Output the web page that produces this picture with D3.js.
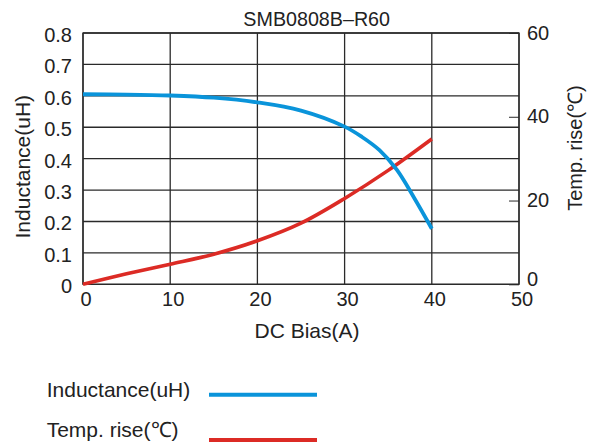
<!DOCTYPE html>
<html><head><meta charset="utf-8">
<script src="https://cdn.jsdelivr.net/npm/d3@7"></script>
<style>
body{margin:0;background:#fff;}
text{font-family:"Liberation Sans",Arial,sans-serif;fill:#222;}
</style></head>
<body>
<svg id="c" width="595" height="447"></svg>
<script>
const title = "SMB0808B\u2013R60";
const biasL = [0, 5, 10, 15, 20, 25, 30, 32, 34, 36, 38, 40];
const inductance = [0.605, 0.604, 0.601, 0.594, 0.579, 0.553, 0.502, 0.469, 0.427, 0.364, 0.274, 0.177];
const biasT = [0, 5, 10, 15, 20, 25, 30, 35, 40];
const tempRise = [0, 2.5, 4.8, 7.2, 10.4, 14.6, 20.5, 27.2, 34.7];
const xTicks = [0, 10, 20, 30, 40, 50];
const yLTicks = [0, 0.1, 0.2, 0.3, 0.4, 0.5, 0.6, 0.7, 0.8];
const yRTicks = [0, 20, 40, 60];
const seriesNames = ["Inductance(uH)", "Temp. rise(\u2103)"];
const colors = ["#0a94da", "#dc2b25"];

const svg = d3.select("#c");
const L = 83, R = 519, T = 33, B = 284.3;
const x = d3.scaleLinear().domain([0, 50]).range([L, R]);
const yL = d3.scaleLinear().domain([0, 0.8]).range([B, T]);
const yR = d3.scaleLinear().domain([0, 60]).range([B, T]);
const FF = "Liberation Sans, Arial, sans-serif";

// grid
const g = svg.append("g").attr("stroke", "#2a2a2a").attr("stroke-width", 1.3);
g.selectAll("line.h").data(yLTicks).join("line")
  .attr("x1", L).attr("x2", R).attr("y1", d => yL(d)).attr("y2", d => yL(d));
g.selectAll("line.v").data(xTicks).join("line")
  .attr("y1", T).attr("y2", B).attr("x1", d => x(d)).attr("x2", d => x(d));
svg.append("rect").attr("x", L).attr("y", T).attr("width", R - L).attr("height", B - T)
  .attr("fill", "none").attr("stroke", "#2a2a2a").attr("stroke-width", 1.3);

// axes
const ax = svg.append("g").attr("transform", `translate(0,${B})`)
  .call(d3.axisBottom(x).tickValues(xTicks).tickSize(0).tickPadding(8).tickFormat(d3.format("d")));
ax.select(".domain").remove();
ax.selectAll("text").attr("font-size", 20).attr("dx", 2.5).style("font-family", FF).attr("fill", "#222");

const ay = svg.append("g").attr("transform", `translate(${L},0)`)
  .call(d3.axisLeft(yL).tickValues(yLTicks).tickSize(0).tickPadding(11).tickFormat(d => d === 0 ? "0" : d3.format(".1f")(d)));
ay.select(".domain").remove();
ay.selectAll("text").attr("font-size", 20).attr("dy", "0.42em").style("font-family", FF).attr("fill", "#222");

const ar = svg.append("g").attr("transform", `translate(${R},0)`)
  .call(d3.axisRight(yR).tickValues(yRTicks).tickSize(-10).tickPadding(8).tickFormat(d3.format("d")));
ar.select(".domain").remove();
ar.selectAll("line").attr("stroke", "#2a2a2a").attr("stroke-width", 1);
ar.selectAll("text").attr("font-size", 20).attr("dy", d => d === 0 ? "0.05em" : "0.3em").style("font-family", FF).attr("fill", "#222");

// series
const lineL = d3.line().x((d, i) => x(biasL[i])).y(d => yL(d)).curve(d3.curveCatmullRom.alpha(0.5));
const lineT = d3.line().x((d, i) => x(biasT[i])).y(d => yR(d)).curve(d3.curveCatmullRom.alpha(0.5));
svg.append("path").attr("d", lineT(tempRise)).attr("fill", "none").attr("stroke", colors[1]).attr("stroke-width", 3.6);
svg.append("path").attr("d", lineL(inductance)).attr("fill", "none").attr("stroke", colors[0]).attr("stroke-width", 3.8);

// titles
svg.append("text").attr("x", 316.7).attr("y", 26).attr("text-anchor", "middle").attr("font-size", 19.7).text(title);
svg.append("text").attr("x", 307).attr("y", 338.3).attr("text-anchor", "middle").attr("font-size", 21).text("DC Bias(A)");
svg.append("text").attr("transform", "translate(30,166.7) rotate(-90)").attr("text-anchor", "middle").attr("font-size", 21).text(seriesNames[0]);
svg.append("text").attr("transform", "translate(582,148) rotate(-90)").attr("text-anchor", "middle").attr("font-size", 20).text(seriesNames[1]);

// legend
const leg = svg.append("g");
const legY = [[397, 394.7], [437.3, 440]];
seriesNames.forEach((n, i) => {
  leg.append("text").attr("x", 46.7).attr("y", legY[i][0]).attr("font-size", 21).text(n);
  leg.append("line").attr("x1", 209).attr("x2", 317).attr("y1", legY[i][1]).attr("y2", legY[i][1])
    .attr("stroke", colors[i]).attr("stroke-width", 4);
});
</script>
</body></html>
